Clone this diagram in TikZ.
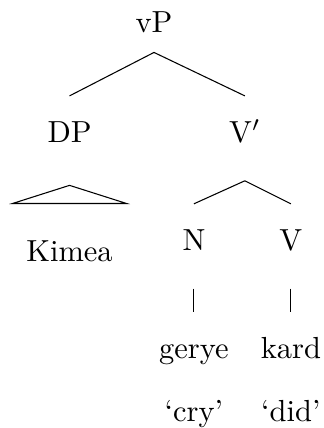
\documentclass[tikz,border=0pt]{standalone}
\usetikzlibrary{positioning}

\tikzset{
  cat/.style={inner sep=0pt, text height=15pt, text depth=12.5pt, anchor=base},
  word/.style={cat, text height=15pt},
}

\begin{document}
\begin{tikzpicture}[x=0.328pt, y=-0.328pt, line width=0.35pt]
 \useasboundingbox (0,0) rectangle (323,428);
 \node [cat, text depth=6.2pt] (vP) at (154,33) {vP};
 \node [cat, text depth=14pt, below left=35.8pt and 27.7pt of vP.base, anchor=base] (DP) {DP};
 \node [cat, below right=35.8pt and 29.8pt of vP.base, anchor=base] (Vbar) {V$'$};
 \node [word, text height=18.7pt, below=39pt of DP.base, anchor=base] (kimea) {Kimea};
 \node [cat, below left=35.4pt and 16.7pt of Vbar.base, anchor=base] (N) {N};
 \node [cat, below right=35.4pt and 15.1pt of Vbar.base, anchor=base] (V) {V};
 \node [word, below=35.4pt of N.base, anchor=base] (gerye) {gerye};
 \node [word, below=35.4pt of V.base, anchor=base] (kard) {kard};
 \node [word, below=20.7pt of gerye.base, anchor=base] (cry) {`cry'};
 \node [word, below=20.7pt of kard.base, anchor=base] (did) {`did'};
 \draw (vP.south) -- (DP.north);
 \draw (vP.south) -- (Vbar.north);
 \draw (DP.south) -- ([xshift=-18.7pt]kimea.north) -- ([xshift=18.7pt]kimea.north) -- cycle;
 \draw (Vbar.south) -- (N.north);
 \draw (Vbar.south) -- (V.north);
 \draw (N.south) -- (gerye.north);
 \draw (V.south) -- (kard.north);
\end{tikzpicture}
\end{document}
